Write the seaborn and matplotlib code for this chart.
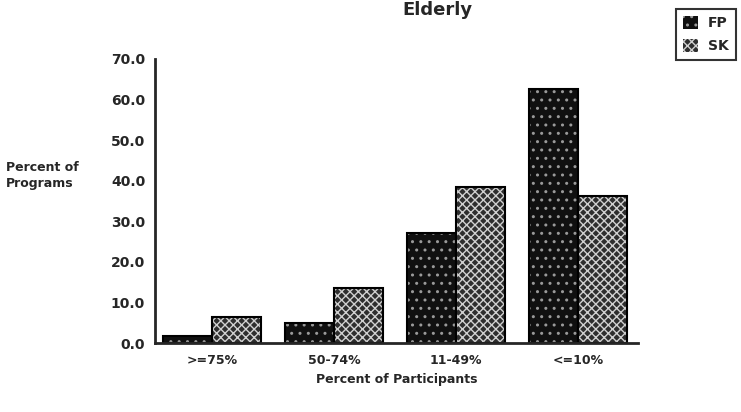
import pandas as pd
import seaborn as sns
import matplotlib.pyplot as plt

# values
categories = [">=75%", "50-74%", "11-49%", "<=10%"]
fp_values = [1.7, 4.9, 27.1, 62.6]
sk_values = [6.5, 13.7, 38.4, 36.2]
series = ["FP", "SK"]
y_ticks = [0, 10, 20, 30, 40, 50, 60, 70]

colors = {"FP": "#101010", "SK": "#2e2e2e"}
hatches = {"FP": "..", "SK": "xxxx"}
hatch_colors = {"FP": "#9a9a9a", "SK": "#d0d0d0"}


def main():
    df = pd.DataFrame({
        "Participants": categories * 2,
        "Percent": fp_values + sk_values,
        "Series": [series[0]] * 4 + [series[1]] * 4,
    })

    sns.set_style("white")
    plt.rcParams["font.family"] = ["DejaVu Sans"]
    plt.rcParams["font.weight"] = "bold"
    plt.rcParams["hatch.linewidth"] = 1.0

    fig = plt.figure(figsize=(7.41, 4.12), dpi=100)
    ax = fig.add_axes([0.209, 0.167, 0.652, 0.690])

    sns.barplot(data=df, x="Participants", y="Percent", hue="Series",
                palette=[colors[s] for s in series], width=0.8,
                saturation=1, linewidth=0, legend=False, ax=ax)

    # hatch takes the edge colour, so draw the black outline on top
    for container, name in zip(ax.containers, series):
        for bar in container:
            bar.set_hatch(hatches[name])
            bar.set_edgecolor(hatch_colors[name])
            bar.set_linewidth(0)
            ax.add_patch(plt.Rectangle(bar.get_xy(), bar.get_width(),
                                       bar.get_height(), fill=False,
                                       edgecolor="black", linewidth=1.5,
                                       zorder=bar.get_zorder() + 0.1))

    ax.set_xlim(-0.47, 3.49)
    ax.set_ylim(0, 70)
    ax.set_yticks(y_ticks)
    ax.set_yticklabels([f"{t:.1f}" for t in y_ticks], fontsize=10,
                       fontweight="bold")
    ax.set_xticklabels(categories, fontsize=9, fontweight="bold")
    ax.tick_params(axis="y", direction="inout", length=6, width=1.5, pad=4)
    ax.tick_params(axis="x", length=0, pad=8)
    sns.despine(ax=ax)
    ax.spines["left"].set_linewidth(2)
    ax.spines["bottom"].set_linewidth(2)

    ax.set_xlabel("Percent of Participants", fontsize=9, fontweight="bold",
                  labelpad=4)
    ax.set_ylabel("")
    fig.text(0.008, 0.575, "Percent of\nPrograms", fontsize=9,
             fontweight="bold", ha="left", va="center", linespacing=1.3)

    fig.text(0.59, 0.998, "Elderly", fontsize=13, fontweight="bold",
             ha="center", va="top")

    handles = []
    for name in series:
        h = plt.Rectangle((0, 0), 1, 1, facecolor=colors[name],
                          edgecolor=hatch_colors[name], hatch=hatches[name],
                          linewidth=0)
        handles.append(h)
    leg = fig.legend(handles, series, loc="upper left",
                     bbox_to_anchor=(0.903, 0.995), frameon=True,
                     fancybox=False, edgecolor="black", fontsize=10,
                     handlelength=1.1, handleheight=1.1, borderpad=0.5,
                     labelspacing=0.6, handletextpad=0.7)
    leg.get_frame().set_linewidth(1.5)

    fig.savefig("out.png", dpi=100)


if __name__ == "__main__":
    main()
